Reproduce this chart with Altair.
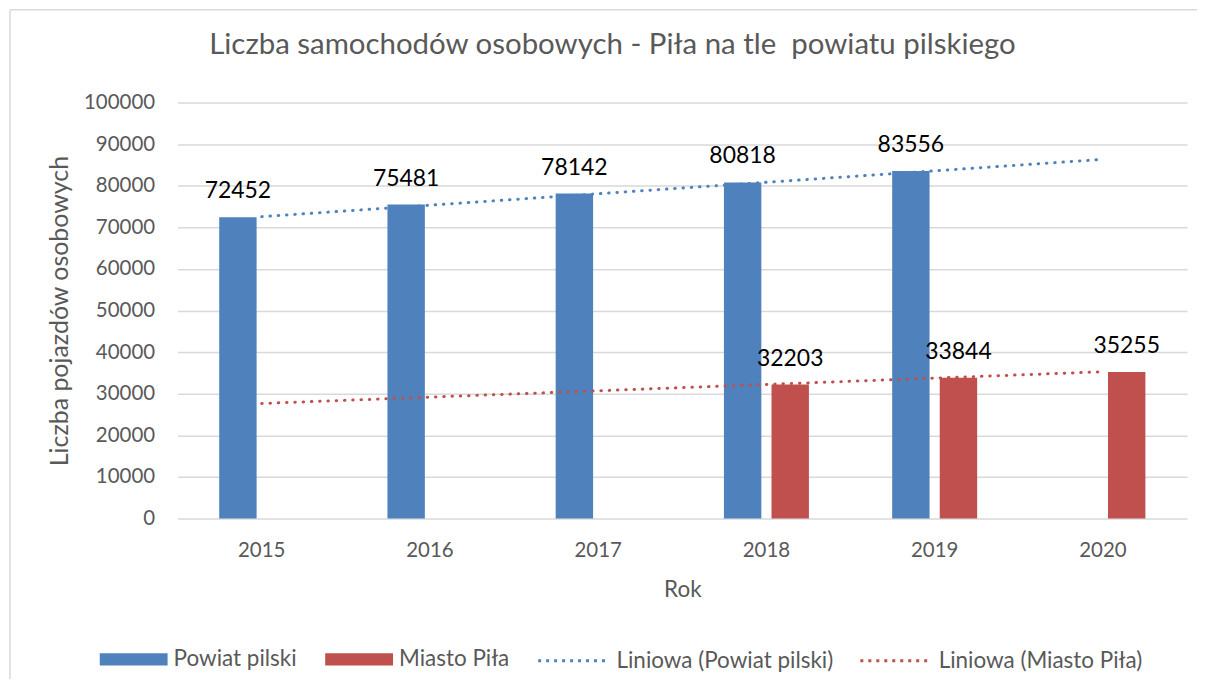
import altair as alt
import pandas as pd

# ---- data ----
years = ["2015", "2016", "2017", "2018", "2019", "2020"]
powiat_values = [72452, 75481, 78142, 80818, 83556, None]
miasto_values = [None, None, None, 32203, 33844, 35255]
series_names = ["Powiat pilski", "Miasto Piła"]
trend_names = ["Liniowa (Powiat pilski)", "Liniowa (Miasto Piła)"]
colors = ["#4F81BD", "#C0504D"]
y_ticks = [0, 10000, 20000, 30000, 40000, 50000, 60000, 70000, 80000, 90000, 100000]
title_text = "Liczba samochodów osobowych - Piła na tle\u00a0 powiatu pilskiego"

rows = []
for name, vals in zip(series_names, [powiat_values, miasto_values]):
    for yr, v in zip(years, vals):
        if v is not None:
            rows.append({"year": yr, "yr": int(yr), "series": name, "value": v})
df = pd.DataFrame(rows)

FONT = "Lato"
GRAY = "#595959"
GRID = "#D9D9D9"

x_scale = alt.Scale(domain=years, paddingInner=0, paddingOuter=0)
y_scale = alt.Scale(domain=[0, 100000], nice=False, zero=True)

x_axis = alt.Axis(
    title="Rok", domain=False, ticks=False, tickSize=0, grid=False,
    labelFont=FONT, labelFontSize=20.5, labelColor=GRAY, labelAngle=0,
    labelBaseline="alphabetic", labelPadding=38,
    titleFont=FONT, titleFontSize=22.5, titleColor=GRAY, titleFontWeight="normal",
    titleBaseline="alphabetic", titleX=506, titleY=78, titleAlign="center",
)
y_axis = alt.Axis(
    title="Liczba pojazdów osobowych", values=y_ticks, format="d",
    domain=False, ticks=False, tickSize=0, grid=True, gridColor=GRID, gridWidth=1.5,
    labelFont=FONT, labelFontSize=20.5, labelColor=GRAY, labelPadding=23,
    titleFont=FONT, titleFontSize=25, titleColor=GRAY, titleFontWeight="normal",
    titleAngle=270, titleBaseline="alphabetic", titleAlign="center",
    titleX=-110, titleY=208.5,
)

x_enc = alt.X("year:N", scale=x_scale, axis=x_axis)
y_enc = alt.Y("value:Q", scale=y_scale, axis=y_axis)
xoff_enc = alt.XOffset(
    "series:N",
    scale=alt.Scale(domain=series_names, paddingInner=0.214, paddingOuter=0.875),
)

base = alt.Chart(df)

bars = base.mark_bar().encode(
    x=x_enc,
    xOffset=xoff_enc,
    y=y_enc,
    fill=alt.Fill(
        "series:N",
        scale=alt.Scale(domain=series_names, range=colors),
        legend=alt.Legend(
            orient="none", legendX=-78, legendY=524, direction="horizontal",
            title=None, padding=0,
            symbolType="M-1,-0.18H1V0.18H-1Z", symbolSize=4624, symbolStrokeWidth=0,
            symbolOpacity=1,
            labelFont=FONT, labelFontSize=22.5, labelColor=GRAY, labelLimit=400,
            labelOffset=6, columnPadding=28,
        ),
    ),
)

labels = base.mark_text(
    font=FONT, fontSize=23, color="black", baseline="alphabetic", dy=-19
).encode(
    x=x_enc,
    xOffset=xoff_enc,
    y=y_enc,
    text=alt.Text("value:Q", format="d"),
)

trend = (
    base.transform_regression("yr", "value", groupby=["series"], extent=[2015, 2020], method="linear")
    .transform_calculate(
        year="toString(datum.yr)",
        trend="'Liniowa (' + datum.series + ')'",
    )
    .mark_line(strokeWidth=3, strokeDash=[0.5, 7.8], strokeCap="round")
    .encode(
        x=x_enc,
        y=y_enc,
        stroke=alt.Stroke(
            "trend:N",
            scale=alt.Scale(domain=trend_names, range=colors),
            legend=alt.Legend(
                orient="none", legendX=360, legendY=523, direction="horizontal",
                title=None, padding=0,
                symbolType="stroke", symbolSize=4900, symbolStrokeWidth=3,
                symbolDash=[3, 5],
                labelFont=FONT, labelFontSize=22.5, labelColor=GRAY, labelLimit=400,
                labelOffset=7, columnPadding=20,
            ),
        ),
    )
)

frame_src = alt.Chart(pd.DataFrame({"k": [0]}))
top_border = frame_src.mark_rule(color=GRID, strokeWidth=1.5).encode(
    x=alt.value(-168), x2=alt.value(1100), y=alt.value(-93)
)
left_border = frame_src.mark_rule(color=GRID, strokeWidth=1.5).encode(
    x=alt.value(-168), y=alt.value(-93), y2=alt.value(600)
)

chart = (
    alt.layer(top_border, left_border, bars, trend, labels)
    .properties(
        width=1012,
        height=417,
        autosize=alt.AutoSizeParams(type="none"),
        padding={"left": 170, "top": 94, "right": 10, "bottom": 160},
        title=alt.TitleParams(
            title_text,
            font=FONT, fontSize=29.5, color=GRAY, fontWeight="normal",
            anchor="middle", baseline="alphabetic", offset=30, dx=-70, dy=105,
        ),
    )
    .configure_view(stroke=None)
    .resolve_scale(fill="independent", stroke="independent")
)

chart.save("out.html", embed_options={"renderer": "svg", "actions": False})
